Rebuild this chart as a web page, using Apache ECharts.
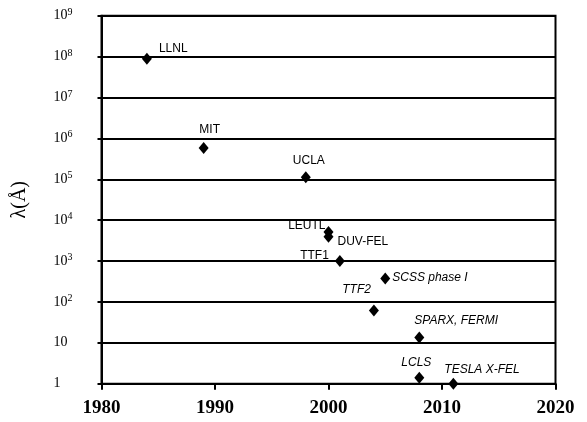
<!DOCTYPE html>
<html>
<head>
<meta charset="utf-8">
<script src="https://cdn.jsdelivr.net/npm/echarts@6/dist/echarts.min.js"></script>
<style>
html,body{margin:0;padding:0;background:#fff;}
#chart{width:587px;height:422px;}
</style>
</head>
<body>
<div id="chart"></div>
<script>
// facility names, year, wavelength in Angstrom
var names = ["LLNL", "MIT", "UCLA", "LEUTL", "DUV-FEL", "TTF1", "SCSS phase I", "TTF2", "SPARX, FERMI", "LCLS", "TESLA X-FEL"];
var years = [1984, 1989, 1998, 2000, 2000, 2001, 2005, 2004, 2008, 2008, 2011];
var lambdas = [8.8e7, 5.8e5, 1.12e5, 5.1e3, 3.9e3, 1.0e3, 376, 62, 13.4, 1.4, 1.0];
var xTicks = [1980, 1990, 2000, 2010, 2020];

// label placement per facility: [dx, dy, align, italic]
var labelPlace = {
	"LLNL": [12, -10, "left", false],
	"MIT": [6, -18, "center", false],
	"UCLA": [3, -17, "center", false],
	"LEUTL": [-3, -6, "right", false],
	"DUV-FEL": [9, 5, "left", false],
	"TTF1": [-11, -5, "right", false],
	"SCSS phase I": [7, -1, "left", true],
	"TTF2": [-3, -21, "right", true],
	"SPARX, FERMI": [-5, -17, "left", true],
	"LCLS": [-3, -15, "center", true],
	"TESLA X-FEL": [-9, -14, "left", true]
};

var points = [];
for (var i = 0; i < names.length; i++) {
	var p = labelPlace[names[i]];
	points.push({
		name: names[i],
		value: [years[i], lambdas[i]],
		label: {
			show: true,
			position: "inside",
			offset: [p[0], p[1]],
			align: p[2],
			verticalAlign: "middle",
			color: "#000",
			fontFamily: "Liberation Sans",
			fontSize: 12,
			fontStyle: p[3] ? "italic" : "normal",
			formatter: "{b}"
		}
	});
}

var chart = echarts.init(document.getElementById("chart"));
var option = {
	animation: false,
	backgroundColor: "#fff",
	grid: {
		left: 101.5, right: 31.5, top: 15.7, bottom: 38.3,
		show: true, borderColor: "#000", borderWidth: 2, backgroundColor: "transparent"
	},
	xAxis: {
		type: "value",
		min: 1980, max: 2020, interval: 10,
		axisLine: { show: true, onZero: false, lineStyle: { color: "#000", width: 2 } },
		axisTick: { show: true, inside: false, length: 6, lineStyle: { color: "#000", width: 2 } },
		splitLine: { show: false },
		axisLabel: {
			color: "#000", fontFamily: "Liberation Serif", fontWeight: "bold", fontSize: 19, margin: 15,
			formatter: function (v) { return xTicks.indexOf(v) >= 0 ? String(v) : ""; }
		}
	},
	yAxis: {
		type: "log",
		logBase: 10,
		min: 1, max: 1e9,
		name: "λ(Å)",
		nameLocation: "middle",
		nameRotate: 90,
		nameGap: 72,
		nameTextStyle: { color: "#000", fontFamily: "Liberation Serif", fontSize: 20 },
		axisLine: { show: true, lineStyle: { color: "#000", width: 2 } },
		axisTick: { show: true, inside: false, length: 4, lineStyle: { color: "#000", width: 2 } },
		splitLine: { show: true, lineStyle: { color: "#000", width: 2 } },
		axisLabel: {
			align: "left",
			margin: 48,
			formatter: function (v) {
				var e = Math.round(Math.log(v) / Math.LN10);
				if (e === 0) return "{b|1}";
				if (e === 1) return "{b|10}";
				return "{b|10}{s|" + e + "}";
			},
			rich: {
				b: { color: "#000", fontFamily: "Liberation Serif", fontSize: 14, lineHeight: 16 },
				s: { color: "#000", fontFamily: "Liberation Serif", fontSize: 10, verticalAlign: "top", padding: [0, 0, 7, 0] }
			}
		}
	},
	series: [{
		type: "scatter",
		symbol: "diamond",
		symbolSize: [10, 12],
		itemStyle: { color: "#000", opacity: 1 },
		data: points
	}]
};
chart.setOption(option);
</script>
</body>
</html>
